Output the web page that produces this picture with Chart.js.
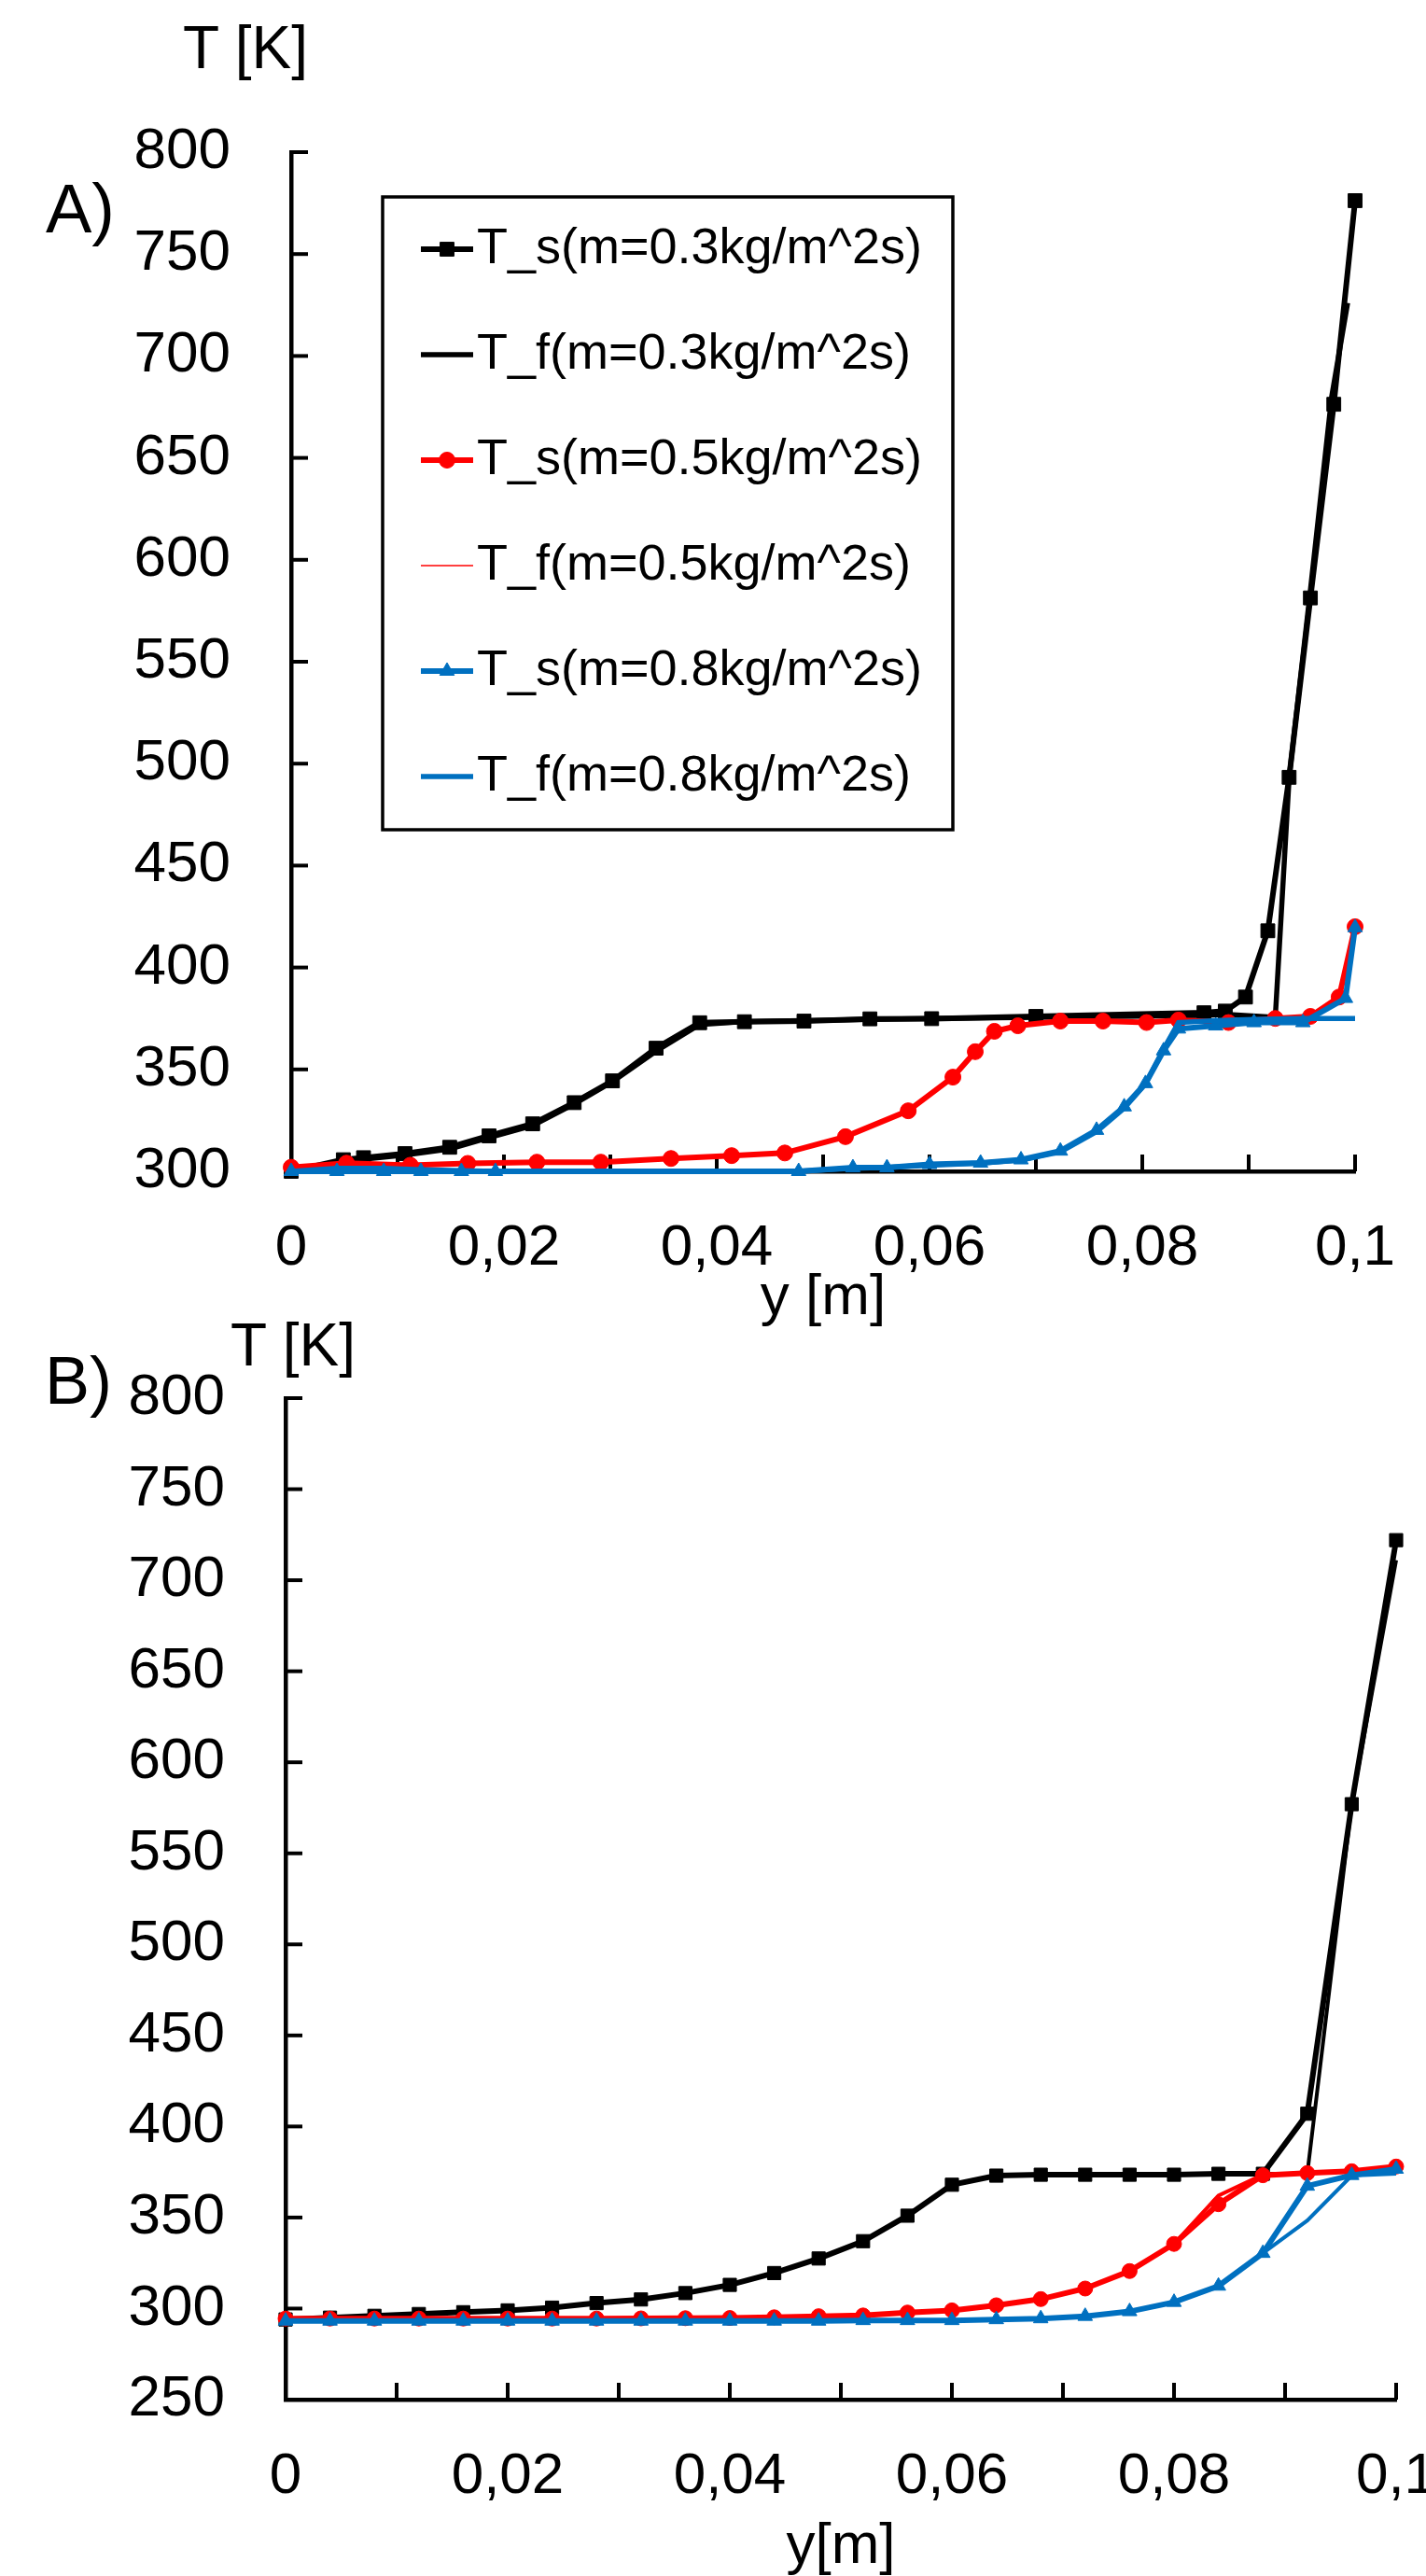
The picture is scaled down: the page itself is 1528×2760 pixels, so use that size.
<!DOCTYPE html>
<html>
<head>
<meta charset="utf-8">
<script src="https://cdn.jsdelivr.net/npm/chart.js@4.4.1/dist/chart.umd.min.js"></script>
<style>
  html, body { margin: 0; padding: 0; background: #fff; overflow: hidden; }
  body { position: relative; width: 1528px; height: 2760px; font-family: "Liberation Sans", Arial, sans-serif; }
  canvas { position: absolute; left: 0; }
  .lbl { position: absolute; line-height: 1; white-space: nowrap; color: #000; }
</style>
</head>
<body>
<canvas id="chartA" width="1528" height="1430" style="top:0"></canvas>
<canvas id="chartB" width="1528" height="1340" style="top:1430px"></canvas>
<div class="lbl" style="left:49px;top:187px;font-size:74px">A)</div>
<div class="lbl" style="left:196px;top:19px;font-size:64px">T [K]</div>
<div class="lbl" style="left:48px;top:1443px;font-size:72px">B)</div>
<div class="lbl" style="left:247px;top:1409px;font-size:64px">T [K]</div>
<script>
const FONT = "'Liberation Sans', Arial, sans-serif"
const BLACK = "#000000"
const RED = "#FF0000"
const BLUE = "#0070C0"

const labels = [
  "T_s(m=0.3kg/m^2s)",
  "T_f(m=0.3kg/m^2s)",
  "T_s(m=0.5kg/m^2s)",
  "T_f(m=0.5kg/m^2s)",
  "T_s(m=0.8kg/m^2s)",
  "T_f(m=0.8kg/m^2s)",
]

// ---- panel A ----
const yA_s03 = [0, 0.0049, 0.0068, 0.0107, 0.0149, 0.0186, 0.0227, 0.0266, 0.0302, 0.0343, 0.0384, 0.0426, 0.0482, 0.0544, 0.0602, 0.07, 0.0858, 0.0878, 0.0897, 0.0918, 0.0938, 0.0958, 0.098, 0.1]
const TA_s03 = [300, 305.7, 306.7, 308.7, 311.8, 317.4, 323.3, 333.7, 344.4, 360.4, 372.9, 373.4, 373.7, 374.8, 374.9, 376, 377.8, 378.6, 385.5, 418, 493.3, 581.3, 676.3, 776.2]
const yA_f03 = [0, 0.0049, 0.0068, 0.0107, 0.0149, 0.0186, 0.0227, 0.0266, 0.0302, 0.0343, 0.0384, 0.0426, 0.0482, 0.0544, 0.0602, 0.07, 0.0858, 0.0878, 0.0925, 0.0938, 0.0958, 0.0978, 0.0993]
const TA_f03 = [300, 304.5, 306, 308, 311, 316.5, 322.5, 333, 344, 359, 372, 373.5, 374, 374.5, 375, 375.5, 376.5, 377, 375.5, 493, 585, 680, 726]
const yA_05 = [0, 0.0052, 0.0112, 0.0166, 0.0231, 0.0291, 0.0357, 0.0414, 0.0464, 0.0521, 0.058, 0.0622, 0.0643, 0.0661, 0.0683, 0.0723, 0.0763, 0.0804, 0.0834, 0.0881, 0.0925, 0.0958, 0.0985, 0.1]
const TA_s05 = [302, 304, 303, 303.9, 304.5, 304.5, 306.3, 307.7, 309, 317, 329.7, 346.2, 358.7, 368.7, 371.4, 373.7, 373.7, 373, 374.2, 373, 375, 376, 385.5, 420]
const TA_f05 = [301, 303, 303, 303.5, 304, 304.5, 306, 307.5, 309, 316.5, 329, 345.5, 358, 368, 371, 373.5, 373.8, 373.5, 374, 374, 374.5, 375.5, 385, 419]
const yA_08 = [0, 0.0043, 0.0087, 0.0122, 0.016, 0.0192, 0.0477, 0.0528, 0.056, 0.06, 0.0648, 0.0686, 0.0723, 0.0757, 0.0783, 0.0803, 0.082, 0.0834, 0.0869, 0.0905, 0.0951, 0.0991, 0.1]
const TA_s08 = [300, 300, 300, 300, 300, 300, 300, 301.8, 301.8, 303.4, 304.1, 305.7, 310, 320.2, 331.7, 343.1, 359.2, 369.9, 371.4, 373, 373, 384.9, 419.6]
const TA_f08 = [300, 301.5, 301.5, 300.8, 300.3, 300, 300, 301.5, 302, 303, 304, 305.5, 309.5, 319.5, 331, 343, 360, 373, 374, 374.5, 375, 375, 375]

// ---- panel B ----
const yB = [0, 0.004, 0.008, 0.012, 0.016, 0.02, 0.024, 0.028, 0.032, 0.036, 0.04, 0.044, 0.048, 0.052, 0.056, 0.06, 0.064, 0.068, 0.072, 0.076, 0.08, 0.084, 0.088, 0.092, 0.096, 0.1]
const TB_s03 = [294, 295, 296, 297, 298, 299, 300.5, 303, 305, 308.5, 313, 319.5, 327.5, 337, 351, 368, 373, 373.5, 373.5, 373.5, 373.5, 374, 374, 407, 577, 722]
const TB_f03 = [294, 295, 296, 297, 298, 299, 300.5, 303, 305, 308.5, 313, 319.5, 327.5, 337, 351, 368, 373, 373.5, 373.5, 373.5, 373.5, 374, 374, 374, 577, 711]
const TB_s05 = [294.5, 294.5, 294.5, 294.5, 294.5, 294.5, 294.5, 294.5, 294.6, 294.7, 294.8, 295.2, 295.8, 296.2, 297.8, 299, 301.8, 305.2, 311, 320.6, 335.5, 357.3, 373.2, 374.4, 375.4, 378]
const TB_f05 = [294.5, 294.5, 294.5, 294.5, 294.5, 294.5, 294.5, 294.5, 294.6, 294.7, 294.8, 295.2, 295.8, 296.2, 297.8, 299, 301.8, 305.2, 311, 320.6, 335.5, 362, 373.5, 374.4, 375.4, 376]
const TB_s08 = [293.2, 293.2, 293.2, 293.2, 293.2, 293.2, 293.2, 293.2, 293.2, 293.2, 293.2, 293.2, 293.2, 293.5, 293.5, 293.5, 294, 294.5, 295.8, 298.4, 303.5, 312.4, 330.4, 367.3, 373.2, 376.6]
const TB_f08 = [293.2, 293.2, 293.2, 293.2, 293.2, 293.2, 293.2, 293.2, 293.2, 293.2, 293.2, 293.2, 293.2, 293.5, 293.5, 293.5, 294, 294.5, 295.8, 298.4, 303.5, 312.4, 330.4, 348.3, 373, 374]

const xTickStep = 0.01
const yTickStep = 50

Chart.defaults.font.family = FONT
Chart.defaults.color = BLACK

function pts(xs, ys) {
  return xs.map((x, i) => ({ x: x, y: ys[i] }))
}

function series(label, xs, ys, color, width, style, radius, order) {
  return {
    label: label,
    data: pts(xs, ys),
    showLine: true,
    borderColor: color,
    backgroundColor: color,
    borderWidth: width,
    pointStyle: style || "circle",
    pointRadius: radius || 0,
    pointBackgroundColor: color,
    pointBorderColor: color,
    pointBorderWidth: 1,
    clip: false,
    order: order,
  }
}

// tick marks pointing into the plot, like the original
const innerTicks = {
  id: "innerTicks",
  beforeDatasetsDraw(chart, args, o) {
    const { ctx, chartArea, scales } = chart
    ctx.save()
    ctx.strokeStyle = BLACK
    ctx.lineWidth = o.width
    scales.x.ticks.forEach((t) => {
      const px = scales.x.getPixelForValue(t.value)
      ctx.beginPath()
      ctx.moveTo(px, chartArea.bottom)
      ctx.lineTo(px, chartArea.bottom - o.len)
      ctx.stroke()
    })
    scales.y.ticks.forEach((t) => {
      const py = scales.y.getPixelForValue(t.value)
      ctx.beginPath()
      ctx.moveTo(chartArea.left, py)
      ctx.lineTo(chartArea.left + o.len, py)
      ctx.stroke()
    })
    ctx.restore()
  },
}

// boxed legend inside the plot area
const boxLegend = {
  id: "boxLegend",
  afterDatasetsDraw(chart, args, o) {
    if (!o.show) return
    const ctx = chart.ctx
    ctx.save()
    ctx.fillStyle = "#fff"
    ctx.fillRect(o.left, o.top, o.width, o.height)
    ctx.lineWidth = 3.5
    ctx.strokeStyle = BLACK
    ctx.strokeRect(o.left, o.top, o.width, o.height)
    ctx.font = o.fontSize + "px " + FONT
    ctx.textBaseline = "middle"
    ctx.textAlign = "left"
    chart.data.datasets.forEach((ds, i) => {
      const y = o.firstRow + i * o.rowStep
      ctx.strokeStyle = ds.borderColor
      ctx.lineWidth = ds.borderWidth
      ctx.beginPath()
      ctx.moveTo(o.lineX0, y)
      ctx.lineTo(o.lineX1, y)
      ctx.stroke()
      if (ds.pointRadius > 0) {
        ctx.fillStyle = ds.pointBackgroundColor
        ctx.strokeStyle = ds.pointBorderColor
        ctx.lineWidth = 1
        Chart.helpers.drawPoint(ctx, { pointStyle: ds.pointStyle, radius: ds.pointRadius, borderWidth: 1, rotation: 0 }, (o.lineX0 + o.lineX1) / 2, y)
      }
      ctx.fillStyle = BLACK
      ctx.fillText(ds.label, o.textX, y)
    })
    ctx.restore()
  },
}

function xLabel(v) {
  const k = Math.round(v * 100)
  if (k % 2) return ""
  return k === 0 ? "0" : String(k / 100).replace(".", ",")
}

function makeOptions(cfg) {
  return {
    responsive: false,
    animation: false,
    devicePixelRatio: 1,
    events: [],
    layout: { padding: cfg.padding },
    scales: {
      x: {
        type: "linear",
        min: 0,
        max: 0.1,
        grid: { display: false },
        border: { display: true, color: BLACK, width: 4.5 },
        ticks: {
          stepSize: xTickStep,
          autoSkip: false,
          maxRotation: 0,
          minRotation: 0,
          padding: 38,
          font: { size: 62 },
          color: BLACK,
          callback: xLabel,
        },
        title: { display: true, text: cfg.xTitle, font: { size: 62 }, color: BLACK, padding: 0 },
        afterFit(s) {
          s.height = cfg.xHeight
          s.paddingLeft = 0
          s.paddingRight = 0
        },
      },
      y: {
        min: cfg.yMin,
        max: 800,
        grid: { display: false },
        border: { display: true, color: BLACK, width: 4.5 },
        ticks: { stepSize: yTickStep, maxTicksLimit: 30, padding: 57, font: { size: 62 }, color: BLACK },
        afterFit(s) {
          s.width = cfg.yWidth
          s.paddingTop = 0
          s.paddingBottom = 0
        },
      },
    },
    plugins: {
      legend: { display: false },
      tooltip: { enabled: false },
      innerTicks: { len: 18, width: 4 },
      boxLegend: cfg.legend,
    },
  }
}

new Chart(document.getElementById("chartA"), {
  type: "scatter",
  data: {
    datasets: [
      series(labels[0], yA_s03, TA_s03, BLACK, 6, "rect", 10.5, 5),
      series(labels[1], yA_f03, TA_f03, BLACK, 5.5, null, 0, 4),
      series(labels[2], yA_05, TA_s05, RED, 6, "circle", 8.5, 3),
      series(labels[3], yA_05, TA_f05, RED, 1.5, null, 0, 2),
      series(labels[4], yA_08, TA_s08, BLUE, 6, "triangle", 9, 1),
      series(labels[5], yA_08, TA_f08, BLUE, 5.5, null, 0, 0),
    ],
  },
  options: makeOptions({
    padding: { top: 163, right: 76, bottom: 2, left: 0 },
    xTitle: "y [m]",
    xHeight: 173,
    yWidth: 312,
    yMin: 300,
    legend: { show: true, left: 410, top: 211, width: 611, height: 678, firstRow: 267, rowStep: 113, lineX0: 451, lineX1: 507, textX: 511, fontSize: 54 },
  }),
  plugins: [innerTicks, boxLegend],
})

new Chart(document.getElementById("chartB"), {
  type: "scatter",
  data: {
    datasets: [
      series(labels[0], yB, TB_s03, BLACK, 6, "rect", 10, 5),
      series(labels[1], yB, TB_f03, BLACK, 4, null, 0, 4),
      series(labels[2], yB, TB_s05, RED, 6, "circle", 8, 3),
      series(labels[3], yB, TB_f05, RED, 4, null, 0, 2),
      series(labels[4], yB, TB_s08, BLUE, 6, "triangle", 9, 1),
      series(labels[5], yB, TB_f08, BLUE, 4, null, 0, 0),
    ],
  },
  options: makeOptions({
    padding: { top: 68, right: 32, bottom: 4, left: 0 },
    xTitle: "y[m]",
    xHeight: 195,
    yWidth: 306,
    yMin: 250,
    legend: { show: false },
  }),
  plugins: [innerTicks, boxLegend],
})
</script>
</body>
</html>
